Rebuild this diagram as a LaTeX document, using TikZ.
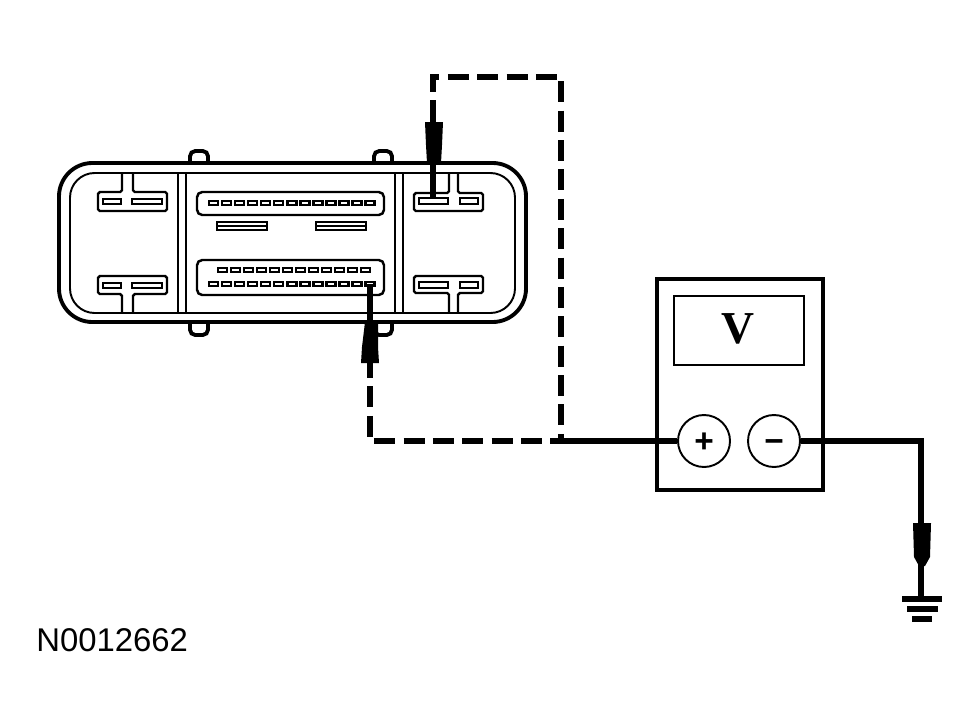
\documentclass[tikz,border=0pt]{standalone}
\usepackage{fontspec}
\setmainfont{Liberation Sans}
\newfontfamily\meterfont{Liberation Serif}
\usetikzlibrary{calc}
\tikzset{
  thick line/.style={line width=2.2pt},
  thin line/.style={line width=1.4pt},
  wire/.style={line width=2.9pt},
  dashed wire/.style={wire,dash pattern=on 11.9pt off 4.82pt,dash phase=11.9pt},
  slot/.style={line width=1.4pt},
  terminal/.style={circle,draw,line width=1.1pt,fill=white,minimum size=1.04cm,inner sep=0pt,font=\bfseries\fontsize{19}{19}\selectfont},
}
\begin{document}
\begin{tikzpicture}[x=0.02cm,y=-0.02cm]
\useasboundingbox (0,0) rectangle (979,727);
% tabs of the housing
\draw [thick line,rounded corners=3pt] (190,163) -- (190,151) -- (208,151) -- (208,163);
\draw [thick line,rounded corners=3pt] (374,163) -- (374,151) -- (392,151) -- (392,163);
\draw [thick line,rounded corners=3pt] (190,322) -- (190,335) -- (208,335) -- (208,322);
\draw [thick line,rounded corners=3pt] (374,322) -- (374,335) -- (392,335) -- (392,322);
% housing
\draw [thick line,fill=white,rounded corners=19pt] (59,163) rectangle (526,322);
\draw [line width=1.1pt,rounded corners=14pt] (70,173) rectangle (515,313);
\draw [thin line] (178,173) -- (178,313);
\draw [thin line] (186,173) -- (186,313);
\draw [thin line] (395,173) -- (395,313);
\draw [thin line] (403,173) -- (403,313);
% left fixtures
\draw [thin line,rounded corners=1pt] (122,173) -- (122,192) -- (98,192) -- (98,211) -- (167,211) -- (167,192) -- (133,192) -- (133,173);
\draw [thin line,rounded corners=1pt] (122,313) -- (122,294) -- (98,294) -- (98,276) -- (167,276) -- (167,294) -- (133,294) -- (133,313);
\draw [slot] (103,199) rectangle (121,204);
\draw [slot] (132,199) rectangle (162,204);
\draw [slot] (103,283) rectangle (121,288);
\draw [slot] (132,283) rectangle (162,288);
% right fixtures
\draw [thin line,rounded corners=1pt] (449,173) -- (449,193) -- (414,193) -- (414,211) -- (483,211) -- (483,193) -- (458,193) -- (458,173);
\draw [thin line,rounded corners=1pt] (449,313) -- (449,293) -- (414,293) -- (414,276) -- (483,276) -- (483,293) -- (458,293) -- (458,313);
\draw [slot] (419,198) rectangle (448,204);
\draw [slot] (460,198) rectangle (478,204);
\draw [slot] (419,282) rectangle (448,288);
\draw [slot] (460,282) rectangle (478,288);
% middle connectors
\draw [thin line,rounded corners=3pt] (197,192) rectangle (384,215);
\draw [thin line,rounded corners=3pt] (197,260) rectangle (384,295);
\foreach \i in {0,...,12} {
  \draw [slot] ({209+13.05*\i},201) rectangle ({218+13.05*\i},205);
  \draw [slot] ({209+13.05*\i},282) rectangle ({218+13.05*\i},286);
}
\foreach \i in {0,...,11} {
  \draw [slot] ({218+13*\i},268) rectangle ({227+13*\i},272);
}
\draw [thin line] (217,222) rectangle (267,230);
\draw [thin line] (217,226) -- (267,226);
\draw [thin line] (316,222) rectangle (366,230);
\draw [thin line] (316,226) -- (366,226);
% meter
\draw [line width=2.6pt] (657,279) rectangle (823,490);
\draw [thin line] (674,296) rectangle (804,365);
\node [font=\meterfont\bfseries\fontsize{26}{26}\selectfont,inner sep=0pt] (reading) at (738,329) {V};
\node [terminal] (plus) at (704,441) {\raisebox{-6.3pt}[0pt][0pt]{+}};
\node [terminal] (minus) at (774,441) {\raisebox{-6.3pt}[0pt][0pt]{−}};
% test lead ends
\coordinate (pinA) at (433,197);
\coordinate (pinB) at (370,284);
\coordinate (leadA) at (433,100);
\coordinate (leadB) at (370,378);
\coordinate (join) at (561,441);
\coordinate (corner) at (561,77);
\coordinate (bend) at (921,441);
\coordinate (ground) at (921,599);
\draw [wire] (pinA) -- (leadA);
\draw [wire] (pinB) -- (leadB);
\fill (425,122) -- (443,122) -- (442,145) -- (441,163) -- (427,163) -- (426,145) -- cycle;
\fill (365,322) -- (378,322) -- (378,347) -- (379,363) -- (361,363) -- (362,347) -- cycle;
% leads
\draw [dashed wire] (leadB) |- (join);
\draw [dashed wire] (leadA) |- (corner) -- (join);
\draw [wire] (join) -- (plus);
\draw [wire] (minus) -- (bend) -- (ground);
\fill (913,523) -- (931,523) -- (930,557) -- (925,566) -- (919,566) -- (914,557) -- cycle;
% ground
\draw [wire] (902,599) -- (942,599);
\draw [wire] (907,609) -- (938,609);
\draw [wire] (912,619) -- (932,619);
\node [anchor=west,inner sep=0pt,font=\fontsize{18.7}{19}\selectfont] (code) at (36,640) {N0012662};
\end{tikzpicture}
\end{document}
